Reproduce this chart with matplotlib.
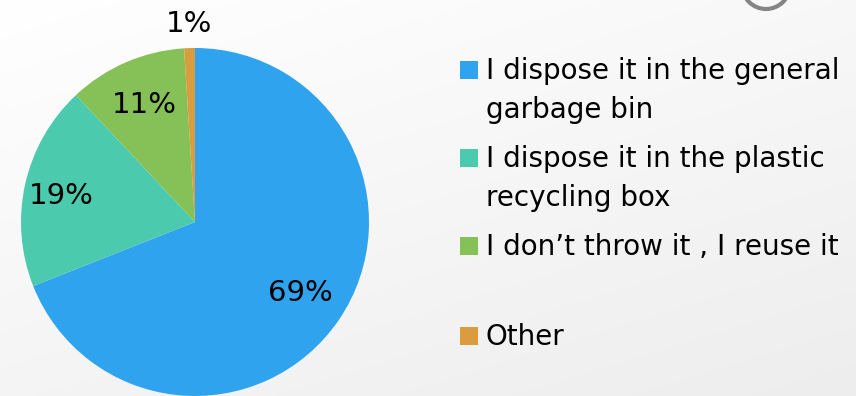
import matplotlib
matplotlib.use("Agg")
import matplotlib.pyplot as plt
import numpy as np
from matplotlib.patches import Rectangle, Circle

categories = ["I dispose it in the general\ngarbage bin",
              "I dispose it in the plastic\nrecycling box",
              "I don\u2019t throw it , I reuse it",
              "Other"]
values = [69, 19, 11, 1]
colors = ["#2fa3ee", "#4bcaad", "#86c157", "#d99c3f"]

W, H = 856, 396
fig = plt.figure(figsize=(W / 100, H / 100), dpi=100)

# background gradient
bg = fig.add_axes([0, 0, 1, 1], zorder=-10)
yy, xx = np.mgrid[0:1:200j, 0:1:400j]
grad = 1.0 - 0.07 * (0.6 * yy + 0.4 * xx)
bg.imshow(np.dstack([grad, grad, grad]), extent=[0, W, H, 0], aspect="auto")
bg.add_patch(Circle((766, -15), 24, fill=False, edgecolor="#858585", linewidth=3))
bg.set_xlim(0, W)
bg.set_ylim(H, 0)
bg.axis("off")

font = "DejaVu Sans"
cx, cy, r = 195, 222, 174
ax = fig.add_axes([(cx - r) / W, (H - cy - r) / H, 2 * r / W, 2 * r / H])
wedges, texts, autotexts = ax.pie(values, colors=colors, startangle=90, counterclock=False,
                                  autopct=lambda p: f"{p:.0f}%", pctdistance=0.73,
                                  textprops=dict(fontsize=21, color="black", family=font))
# move the small slice label outside
ang = np.deg2rad(90 - 360 * (sum(values[:-1]) + values[-1] / 2) / sum(values))
autotexts[-1].set_position((1.14 * np.cos(ang), 1.14 * np.sin(ang)))
autotexts[1].set_position((-0.77, 0.15))
ax.set_xlim(-1, 1)
ax.set_ylim(-1, 1)
ax.axis("off")

# legend
leg_y = [70, 158, 246, 336]
for lab, col, y in zip(categories, colors, leg_y):
    bg.add_patch(Rectangle((460, y - 9), 18, 18, facecolor=col, edgecolor="none"))
    bg.text(486, y - 13, lab, fontsize=20, family=font, va="top", ha="left",
            linespacing=1.48, color="black")

fig.savefig("out.png", dpi=100)
